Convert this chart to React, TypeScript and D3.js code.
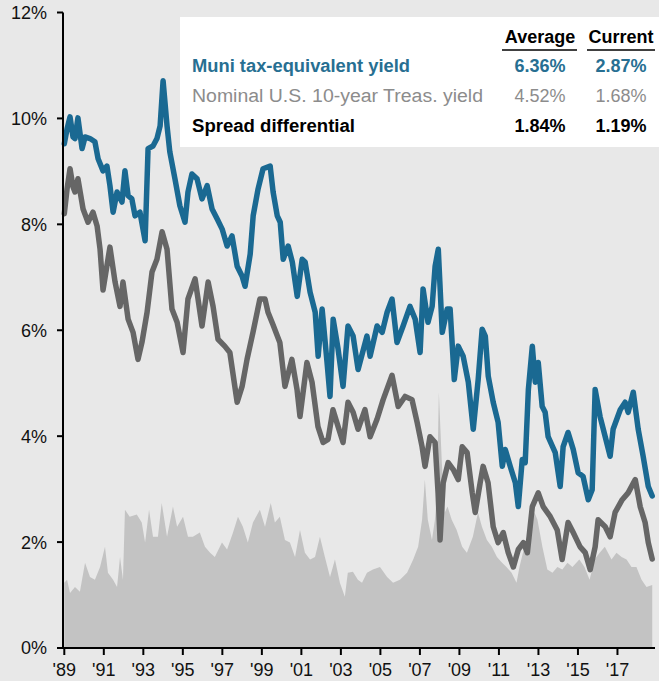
import React from 'react';
import * as d3 from 'd3';

const WIDTH = 659;
const HEIGHT = 681;

// Muni tax-equivalent yield (%), by decimal year
const muniDates = [
  1989.00, 1989.14, 1989.29, 1989.44, 1989.54, 1989.69, 1989.90, 1990.05, 1990.30, 1990.55,
  1990.71, 1990.96, 1991.16, 1991.31, 1991.47, 1991.67, 1991.92, 1992.07, 1992.23, 1992.42,
  1992.58, 1992.83, 1993.09, 1993.24, 1993.49, 1993.69, 1993.85, 1994.00, 1994.20, 1994.34,
  1994.60, 1994.85, 1995.11, 1995.26, 1995.46, 1995.72, 1995.97, 1996.23, 1996.48, 1996.74,
  1996.99, 1997.24, 1997.49, 1997.75, 1998.00, 1998.15, 1998.41, 1998.56, 1998.81, 1999.06,
  1999.42, 1999.57, 1999.78, 1999.93, 2000.08, 2000.33, 2000.54, 2000.79, 2001.04, 2001.19,
  2001.44, 2001.70, 2001.85, 2002.05, 2002.30, 2002.45, 2002.61, 2002.86, 2003.11, 2003.36,
  2003.62, 2003.87, 2004.32, 2004.48, 2004.83, 2005.09, 2005.34, 2005.59, 2005.84, 2006.15,
  2006.50, 2006.76, 2007.01, 2007.16, 2007.41, 2007.62, 2007.77, 2007.93, 2008.13, 2008.38,
  2008.53, 2008.74, 2008.94, 2009.19, 2009.45, 2009.70, 2009.95, 2010.15, 2010.31, 2010.46,
  2010.71, 2010.96, 2011.17, 2011.32, 2011.57, 2011.83, 2011.98, 2012.18, 2012.33, 2012.49,
  2012.69, 2012.84, 2012.99, 2013.19, 2013.34, 2013.49, 2013.85, 2014.10, 2014.25, 2014.50,
  2014.76, 2015.01, 2015.26, 2015.52, 2015.72, 2015.87, 2016.12, 2016.38, 2016.63, 2016.78,
  2017.14, 2017.39, 2017.54, 2017.80, 2018.05, 2018.30, 2018.56, 2018.76,
];
const muniYield = [
  9.52, 9.80, 10.03, 9.65, 9.62, 10.01, 9.43, 9.65, 9.62, 9.56,
  9.24, 9.01, 9.10, 8.73, 8.23, 8.61, 8.42, 9.01, 8.54, 8.48,
  8.16, 8.23, 7.69, 9.43, 9.48, 9.62, 9.86, 10.71, 9.86, 9.37,
  8.86, 8.35, 8.04, 8.61, 8.95, 8.86, 8.48, 8.73, 8.29, 8.10,
  7.91, 7.59, 7.78, 7.21, 7.02, 6.83, 7.44, 8.16, 8.67, 9.05,
  9.10, 8.61, 8.16, 8.04, 7.34, 7.59, 7.29, 6.64, 7.34, 7.29,
  6.72, 6.34, 5.51, 6.40, 5.39, 4.75, 6.21, 5.64, 4.94, 6.08,
  5.89, 5.26, 5.89, 5.51, 6.08, 5.96, 6.34, 6.59, 5.77, 6.08,
  6.45, 6.21, 5.58, 6.78, 6.15, 6.45, 7.21, 7.53, 5.96, 6.40,
  6.40, 5.07, 5.70, 5.51, 5.02, 4.13, 5.07, 6.02, 5.89, 5.13,
  4.64, 4.26, 3.43, 3.75, 3.43, 3.12, 2.67, 3.56, 3.50, 4.88,
  5.70, 5.02, 5.39, 4.56, 4.45, 3.99, 3.69, 3.05, 3.80, 4.07,
  3.75, 3.31, 3.24, 2.80, 2.99, 4.88, 4.37, 3.99, 3.62, 4.13,
  4.50, 4.64, 4.45, 4.83, 4.13, 3.62, 3.05, 2.87,
];

// Nominal U.S. 10-year Treasury yield (%)
const treasDates = [
  1989.00, 1989.14, 1989.29, 1989.44, 1989.54, 1989.69, 1989.95, 1990.20, 1990.45, 1990.66,
  1990.81, 1990.96, 1991.31, 1991.57, 1991.82, 1991.97, 1992.23, 1992.48, 1992.73, 1992.93,
  1993.19, 1993.44, 1993.69, 1993.95, 1994.20, 1994.45, 1994.71, 1995.01, 1995.26, 1995.62,
  1995.97, 1996.28, 1996.53, 1996.78, 1997.12, 1997.38, 1997.75, 1998.00, 1998.25, 1998.55,
  1998.90, 1999.16, 1999.31, 1999.56, 1999.91, 2000.17, 2000.52, 2000.78, 2000.93, 2001.28,
  2001.54, 2001.84, 2002.10, 2002.35, 2002.60, 2002.86, 2003.11, 2003.36, 2003.62, 2003.87,
  2004.22, 2004.48, 2004.83, 2005.14, 2005.59, 2005.90, 2006.25, 2006.60, 2006.86, 2007.11,
  2007.26, 2007.51, 2007.77, 2007.92, 2008.02, 2008.18, 2008.43, 2008.69, 2008.94, 2009.14,
  2009.39, 2009.65, 2009.80, 2010.05, 2010.20, 2010.45, 2010.71, 2010.96, 2011.22, 2011.47,
  2011.73, 2011.98, 2012.24, 2012.44, 2012.69, 2012.99, 2013.24, 2013.60, 2013.95, 2014.20,
  2014.50, 2014.76, 2015.11, 2015.37, 2015.62, 2015.87, 2016.02, 2016.38, 2016.63, 2016.88,
  2017.24, 2017.54, 2017.90, 2018.15, 2018.40, 2018.56, 2018.76,
];
const treasYield = [
  8.20, 8.67, 9.05, 8.71, 8.61, 8.86, 8.29, 8.04, 8.23, 7.97,
  7.53, 6.76, 7.57, 6.91, 6.45, 6.91, 6.21, 5.96, 5.45, 5.77,
  6.34, 7.10, 7.34, 7.86, 7.53, 6.40, 6.15, 5.58, 6.59, 6.97,
  6.08, 6.91, 6.45, 5.83, 5.70, 5.58, 4.64, 4.94, 5.45, 5.96,
  6.59, 6.59, 6.34, 6.11, 5.77, 4.94, 5.45, 4.88, 4.37, 5.39,
  5.02, 4.18, 3.88, 3.94, 4.50, 4.18, 3.88, 4.64, 4.45, 4.13,
  4.50, 3.99, 4.32, 4.69, 5.15, 4.56, 4.75, 4.69, 4.26, 3.80,
  3.43, 3.99, 3.88, 2.93, 2.04, 3.12, 3.50, 3.37, 3.18, 3.80,
  3.69, 2.93, 2.56, 3.12, 3.43, 3.12, 2.29, 1.99, 2.18, 1.80,
  1.53, 1.86, 1.99, 1.80, 2.67, 2.93, 2.67, 2.48, 2.23, 1.67,
  2.37, 2.18, 1.91, 1.80, 1.48, 1.91, 2.42, 2.29, 2.10, 2.56,
  2.80, 2.93, 3.18, 2.67, 2.37, 1.99, 1.68,
];

// Spread differential (%), shaded area
const spreadDates = [
  1989.00, 1989.14, 1989.29, 1989.54, 1989.79, 1990.05, 1990.30, 1990.55, 1990.81, 1991.06,
  1991.21, 1991.47, 1991.67, 1991.82, 1991.97, 1992.07, 1992.31, 1992.67, 1992.92, 1993.09,
  1993.29, 1993.49, 1993.74, 1993.93, 1994.20, 1994.50, 1994.71, 1995.01, 1995.26, 1995.51,
  1995.86, 1996.12, 1996.38, 1996.62, 1996.98, 1997.24, 1997.54, 1997.79, 1998.04, 1998.29,
  1998.55, 1998.90, 1999.16, 1999.45, 1999.66, 1999.91, 2000.17, 2000.42, 2000.68, 2000.93,
  2001.18, 2001.44, 2001.69, 2001.94, 2002.19, 2002.45, 2002.70, 2002.95, 2003.20, 2003.35,
  2003.61, 2003.86, 2004.07, 2004.32, 2004.62, 2004.98, 2005.34, 2005.64, 2005.99, 2006.35,
  2006.66, 2006.91, 2007.11, 2007.25, 2007.40, 2007.61, 2007.76, 2007.86, 2007.96, 2008.11,
  2008.26, 2008.40, 2008.61, 2008.86, 2009.14, 2009.38, 2009.68, 2009.94, 2010.14, 2010.39,
  2010.64, 2010.90, 2011.16, 2011.38, 2011.64, 2011.89, 2012.04, 2012.29, 2012.55, 2012.80,
  2012.95, 2013.20, 2013.45, 2013.71, 2013.96, 2014.21, 2014.47, 2014.72, 2015.07, 2015.33,
  2015.59, 2015.84, 2016.10, 2016.36, 2016.70, 2016.95, 2017.21, 2017.46, 2017.71, 2017.96,
  2018.22, 2018.47, 2018.76,
];
const spreadValues = [
  1.23, 1.29, 1.04, 1.15, 1.06, 1.61, 1.34, 1.29, 1.53, 1.91,
  1.42, 1.29, 1.15, 1.72, 1.29, 2.61, 2.48, 2.52, 2.37, 1.99,
  2.61, 2.10, 2.10, 2.74, 2.10, 2.67, 2.29, 2.48, 2.10, 2.10,
  2.18, 1.91, 1.80, 1.72, 1.99, 1.86, 2.18, 2.48, 2.29, 1.99,
  2.37, 2.61, 2.29, 2.74, 2.37, 2.48, 2.04, 1.99, 1.72, 2.23,
  1.80, 1.67, 1.72, 2.10, 1.72, 1.34, 1.67, 1.23, 0.97, 1.42,
  1.44, 1.29, 1.23, 1.42, 1.48, 1.53, 1.34, 1.23, 1.29, 1.42,
  1.67, 1.91, 2.42, 3.18, 2.42, 2.04, 2.42, 2.86, 4.83, 3.50,
  2.56, 2.67, 2.42, 2.23, 1.91, 1.80, 2.10, 2.56, 2.29, 2.04,
  1.91, 1.72, 1.61, 1.53, 1.42, 1.23, 1.53, 1.91, 2.29, 2.56,
  2.42, 1.91, 1.48, 1.42, 1.53, 1.48, 1.61, 1.53, 1.67, 1.53,
  1.29, 1.67, 1.80, 1.91, 1.67, 1.80, 1.72, 1.67, 1.53, 1.53,
  1.29, 1.15, 1.19,
];

const yTickValues = [0, 2, 4, 6, 8, 10, 12];
const xTickYears = d3.range(1989, 2018, 2);

const legendLabels = [
  'Muni tax-equivalent yield',
  'Nominal U.S. 10-year Treas. yield',
  'Spread differential',
];
const legendAverages = [6.36, 4.52, 1.84];
const legendCurrents = [2.87, 1.68, 1.19];
const legendHeaders = ['Average', 'Current'];

const COLORS = {
  bg: '#e8e8e8',
  muni: '#1a6992',
  treas: '#666666',
  spread: '#c3c3c3',
  muniText: '#276f92',
  treasText: '#8c8c8c',
  spreadText: '#000000',
};

const FONT = '"Liberation Sans", Arial, Helvetica, sans-serif';

type Pt = [number, number];
const zipSeries = (dates: number[], vals: number[]): Pt[] =>
  dates.slice(0, Math.min(dates.length, vals.length)).map((d, i) => [d, vals[i]]);

export default function App() {
  const x = d3.scaleLinear().domain([1989, 2018.9]).range([64.3, 655]);
  const y = d3.scaleLinear().domain([0, 12]).range([648, 12.5]);

  const line = d3.line<Pt>().x((d) => x(d[0])).y((d) => y(d[1]));
  const area = d3
    .area<Pt>()
    .x((d) => x(d[0]))
    .y0(y(0))
    .y1((d) => y(d[1]));

  const muni = zipSeries(muniDates, muniYield);
  const treas = zipSeries(treasDates, treasYield);
  const spread = zipSeries(spreadDates, spreadValues);

  const axisLeft = 63;
  const axisBottom = y(0);

  const rowColors = [COLORS.muniText, COLORS.treasText, COLORS.spreadText];
  const rowWeights = ['bold', 'normal', 'bold'];
  const rowWidths = [218, 291, 163];
  const rowBaselines = [72, 102, 132];
  const colCenters = [540, 621];
  const headerSpans: [number, number][] = [
    [502, 577],
    [587, 655],
  ];

  return (
    <svg
      width={WIDTH}
      height={HEIGHT}
      viewBox={`0 0 ${WIDTH} ${HEIGHT}`}
      style={{ position: 'absolute', left: 0, top: 0, display: 'block' }}
      fontFamily={FONT}
    >
      <rect x={0} y={0} width={WIDTH} height={HEIGHT} fill={COLORS.bg} />

      {/* spread differential area */}
      <path d={area(spread) ?? ''} fill={COLORS.spread} />

      {/* Treasury yield line */}
      <path
        d={line(treas) ?? ''}
        fill="none"
        stroke={COLORS.treas}
        strokeWidth={5.5}
        strokeLinejoin="round"
        strokeLinecap="round"
      />

      {/* Muni tax-equivalent yield line */}
      <path
        d={line(muni) ?? ''}
        fill="none"
        stroke={COLORS.muni}
        strokeWidth={5.5}
        strokeLinejoin="round"
        strokeLinecap="round"
      />

      {/* y axis */}
      <line x1={axisLeft} x2={axisLeft} y1={y(12)} y2={axisBottom + 1} stroke="#000" strokeWidth={2} />
      {yTickValues.map((v) => (
        <g key={`y${v}`}>
          <line x1={axisLeft - 6} x2={axisLeft} y1={y(v)} y2={y(v)} stroke="#000" strokeWidth={2} />
          <text
            x={47}
            y={y(v)}
            dy="0.36em"
            textAnchor="end"
            fontSize={18}
            fill="#111"
          >
            {`${v}%`}
          </text>
        </g>
      ))}

      {/* x axis */}
      <line x1={axisLeft - 1} x2={655} y1={axisBottom} y2={axisBottom} stroke="#000" strokeWidth={2} />
      {xTickYears.map((yr) => (
        <g key={`x${yr}`}>
          <line x1={x(yr)} x2={x(yr)} y1={axisBottom} y2={axisBottom + 7} stroke="#000" strokeWidth={2} />
          <text x={x(yr)} y={676} textAnchor="middle" fontSize={18} fill="#111">
            {`'${String(yr % 100).padStart(2, '0')}`}
          </text>
        </g>
      ))}

      {/* legend table */}
      <rect x={180} y={17} width={479} height={130} fill="#ffffff" />
      {legendHeaders.map((h, i) => (
        <g key={h}>
          <text
            x={colCenters[i]}
            y={43}
            textAnchor="middle"
            fontSize={18}
            fontWeight="bold"
            fill="#000"
          >
            {h}
          </text>
          <line
            x1={headerSpans[i][0]}
            x2={headerSpans[i][1]}
            y1={50}
            y2={50}
            stroke="#000"
            strokeWidth={1.6}
          />
        </g>
      ))}
      {legendLabels.map((label, i) => (
        <g key={label}>
          <text
            x={192}
            y={rowBaselines[i]}
            fontSize={18}
            fontWeight={rowWeights[i]}
            fill={rowColors[i]}
            textLength={rowWidths[i]}
            lengthAdjust="spacingAndGlyphs"
          >
            {label}
          </text>
          <text
            x={colCenters[0]}
            y={rowBaselines[i]}
            textAnchor="middle"
            fontSize={18}
            fontWeight={rowWeights[i]}
            fill={rowColors[i]}
          >
            {`${legendAverages[i].toFixed(2)}%`}
          </text>
          <text
            x={colCenters[1]}
            y={rowBaselines[i]}
            textAnchor="middle"
            fontSize={18}
            fontWeight={rowWeights[i]}
            fill={rowColors[i]}
          >
            {`${legendCurrents[i].toFixed(2)}%`}
          </text>
        </g>
      ))}
    </svg>
  );
}
